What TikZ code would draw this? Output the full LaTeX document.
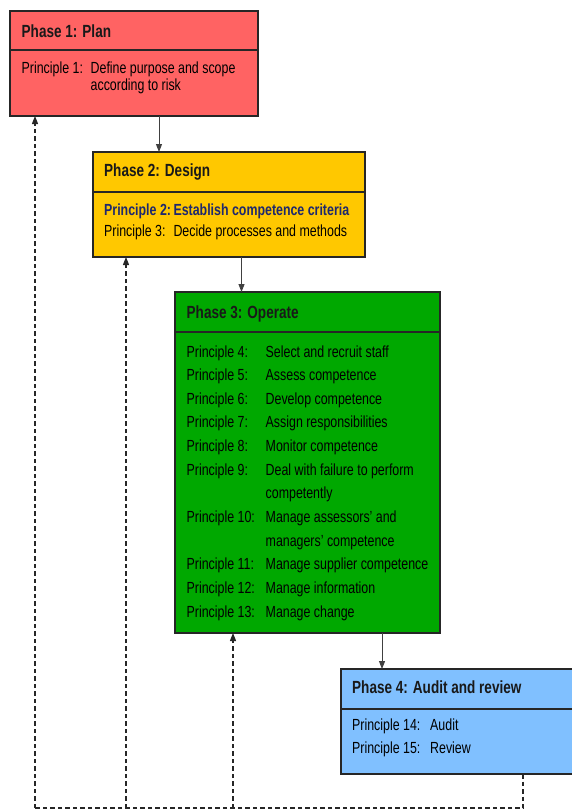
\documentclass[tikz,border=0pt]{standalone}
\usepackage{fontspec}
\setmainfont{Liberation Sans}[FakeStretch=0.77]
\usetikzlibrary{arrows.meta}
\definecolor{cPlan}{RGB}{255,99,99}
\definecolor{cDesign}{RGB}{255,200,0}
\definecolor{cOperate}{RGB}{0,168,0}
\definecolor{cAudit}{RGB}{128,192,255}
\definecolor{cNavy}{RGB}{30,40,110}
\tikzset{
  phasebox/.style={draw=black!85, line width=1.4pt, anchor=north west, inner sep=0pt, outer sep=0pt},
  sepline/.style={draw=black!85, line width=1.4pt},
  ttl/.style={anchor=base west, inner sep=0pt, font=\fontsize{17.6}{20}\selectfont\bfseries, text=black!90},
  txt/.style={anchor=base west, inner sep=0pt, font=\fontsize{16.1}{18}\selectfont, text=black},
  flow/.style={draw=black!75, line width=1pt, -{Triangle[length=8pt,width=6pt]}},
  back/.style={draw=black!85, line width=1.2pt, dash pattern=on 4.5pt off 3pt},
  backarrow/.style={back, -{Triangle[length=8pt,width=6pt]}}
}
\begin{document}
\begin{tikzpicture}[x=1pt,y=-1pt]
\useasboundingbox (0,0) rectangle (571,811);
% boxes
\node[phasebox, fill=cPlan, minimum width=248pt, minimum height=105pt] (b1) at (10,11) {};
\node[phasebox, fill=cDesign, minimum width=272pt, minimum height=105pt] (b2) at (93,152) {};
\node[phasebox, fill=cOperate, minimum width=265pt, minimum height=341pt] (b3) at (175,292) {};
\node[phasebox, fill=cAudit, minimum width=236pt, minimum height=105pt] (b4) at (341,669) {};
% header separators
\draw[sepline] (10,50) -- (258,50);
\draw[sepline] (93,192) -- (365,192);
\draw[sepline] (175,332) -- (440,332);
\draw[sepline] (341,709) -- (577,709);
% Phase 1
\node[ttl] (t1) at (21.5,37.5) {Phase 1: Plan};
\node[txt] (l1) at (21.5,73.3) {Principle 1:};
\node[txt] (d1) at (90.5,73.3) {Define purpose and scope};
\node[txt] (d1b) at (90.5,90.8) {according to risk};
% Phase 2
\node[ttl] (t2) at (104,176.7) {Phase 2: Design};
\node[txt, font=\fontsize{16.1}{18}\selectfont\bfseries, text=cNavy] (l2) at (104,215) {Principle 2:};
\node[txt, font=\fontsize{16.1}{18}\selectfont\bfseries, text=cNavy] (d2) at (173.3,215) {Establish competence criteria};
\node[txt] (l3) at (104,236.7) {Principle 3:};
\node[txt] (d3) at (173.3,236.7) {Decide processes and methods};
% Phase 3
\node[ttl] (t3) at (186.5,318.3) {Phase 3: Operate};
\node[txt] (l4) at (186.5,357.0) {Principle 4:};
\node[txt] (d4) at (265.5,357.0) {Select and recruit staff};
\node[txt] (l5) at (186.5,380.6) {Principle 5:};
\node[txt] (d5) at (265.5,380.6) {Assess competence};
\node[txt] (l6) at (186.5,404.3) {Principle 6:};
\node[txt] (d6) at (265.5,404.3) {Develop competence};
\node[txt] (l7) at (186.5,427.9) {Principle 7:};
\node[txt] (d7) at (265.5,427.9) {Assign responsibilities};
\node[txt] (l8) at (186.5,451.6) {Principle 8:};
\node[txt] (d8) at (265.5,451.6) {Monitor competence};
\node[txt] (l9) at (186.5,475.2) {Principle 9:};
\node[txt] (d9) at (265.5,475.2) {Deal with failure to perform};
\node[txt] (d9b) at (265.5,498.8) {competently};
\node[txt] (l10) at (186.5,522.5) {Principle 10:};
\node[txt] (d10) at (265.5,522.5) {Manage assessors’ and};
\node[txt] (d10b) at (265.5,546.1) {managers’ competence};
\node[txt] (l11) at (186.5,569.8) {Principle 11:};
\node[txt] (d11) at (265.5,569.8) {Manage supplier competence};
\node[txt] (l12) at (186.5,593.4) {Principle 12:};
\node[txt] (d12) at (265.5,593.4) {Manage information};
\node[txt] (l13) at (186.5,617.0) {Principle 13:};
\node[txt] (d13) at (265.5,617.0) {Manage change};
% Phase 4
\node[ttl] (t4) at (352,693.3) {Phase 4: Audit and review};
\node[txt] (l14) at (352,730) {Principle 14:};
\node[txt] (d14) at (430,730) {Audit};
\node[txt] (l15) at (352,753.3) {Principle 15:};
\node[txt] (d15) at (430,753.3) {Review};
% forward arrows
\draw[flow] (b1.south -| 159,0) -- (b2.north -| 159,0);
\draw[flow] (b2.south -| 241.5,0) -- (b3.north -| 241.5,0);
\draw[flow] (b3.south -| 382,0) -- (b4.north -| 382,0);
% feedback loop
\coordinate (c4) at (523,808);
\coordinate (c3) at (233,808);
\coordinate (c2) at (126,808);
\coordinate (c1) at (35,808);
\draw[back] (b4.south -| c4) -- (c4) -- (c1);
\draw[backarrow] (c1) -- (b1.south -| c1);
\draw[backarrow] (c2) -- (b2.south -| c2);
\draw[backarrow] (c3) -- (b3.south -| c3);
\end{tikzpicture}
\end{document}
